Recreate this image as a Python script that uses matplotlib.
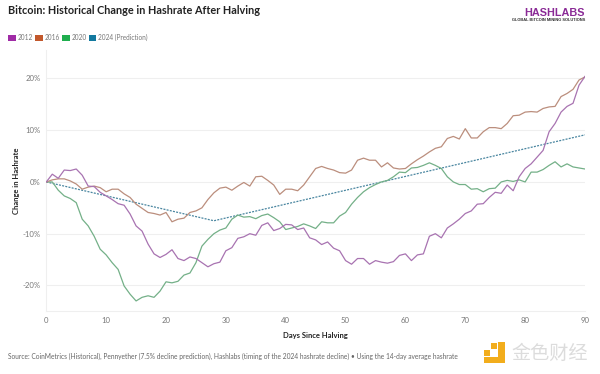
import matplotlib
matplotlib.use("Agg")
import matplotlib.pyplot as plt
from matplotlib.patches import Rectangle

plt.rcParams['font.family'] = ['Lato', 'DejaVu Sans']

days = list(range(0, 91))

# one value per day
hash_2012 = [0, 1.5, 0.7, 2.3, 2.2, 2.5, 1.3, -0.8, -0.9, -2.0, -2.7, -3.4, -4.2, -4.5, -6.2, -8.5, -9.5, -12, -13.9, -14.6,
             -14, -13.1, -14.8, -15.2, -14.5, -14.8, -15.6, -16.4, -15.8, -15.5, -13.3, -12.7, -10.9, -10.6, -10, -10.3, -8.4, -7.9, -9.4, -9,
             -8.2, -8.3, -9.2, -8.9, -10.8, -11.2, -12.1, -11.6, -12.8, -13.3, -15.2, -15.9, -14.8, -14.8, -15.9, -15.2, -15.5, -15.7, -15.4, -14.2,
             -13.9, -15.2, -14.1, -13.9, -10.5, -10, -10.8, -8.9, -8.1, -7.2, -6.1, -5.6, -4.3, -4.2, -3, -2, -2.2, -0.6, -1.7, 1.0,
             2.6, 3.5, 4.8, 6.1, 9.7, 11.3, 13.5, 14.6, 15.2, 18.7, 20.4]
hash_2016 = [0, 0.4, 0.6, 0.6, 0.2, -0.4, -1.4, -1, -0.8, -1.1, -1.9, -1.4, -1.4, -2.3, -3, -4.3, -5.1, -5.9, -6.1, -6.4,
             -5.9, -7.7, -7.2, -7, -5.9, -5.6, -5, -3.4, -2.1, -1.2, -1, -1.6, -0.8, -0.1, -0.8, 1, 1.1, 0.3, -0.6, -2.4,
             -1.4, -1.4, -1.7, -0.6, 1, 2.6, 3, 2.6, 2.3, 1.8, 1.7, 2.3, 4.2, 4.6, 4.2, 4.2, 2.9, 3.7, 2.7, 2.5,
             2.6, 3.5, 4.3, 5, 5.8, 6.5, 6.8, 8.4, 8.8, 8.3, 10.3, 8.5, 8.5, 9.7, 10.5, 10.5, 10.3, 11.3, 12.8, 12.9,
             13.5, 13.6, 13.5, 14.2, 14.5, 14.6, 16.5, 17.1, 17.9, 19.7, 20.3]
hash_2020 = [0, 0, -1.6, -2.7, -3.2, -4, -7.2, -8.5, -10.5, -13, -14.1, -15.6, -16.9, -20.1, -21.7, -23, -22.3, -22, -22.3, -21.1,
             -19.3, -19.5, -19.2, -18, -17.6, -15.6, -12.4, -11.1, -10, -9.3, -8.9, -7.2, -6.4, -6.8, -6.7, -7.1, -6.5, -6.2, -6.9, -7.7,
             -9.2, -8.9, -8.6, -8.1, -8.5, -9, -7.7, -7.9, -7.9, -6.6, -5.9, -4.3, -3, -1.9, -1.1, -0.5, 0, 0.3, 1, 1.9,
             1.8, 2.7, 2.8, 3.2, 3.7, 3.2, 2.6, 1, 0, -0.5, -0.5, -1.4, -1.3, -1.9, -1.3, -1.2, 0, 0.3, 0.1, 0.4,
             0, 1.9, 1.9, 2.4, 3.2, 3.9, 2.9, 3.5, 2.9, 2.7, 2.5]
days_2024 = [0, 28, 90]
hash_2024 = [0, -7.5, 9.1]

x_ticks = [0, 10, 20, 30, 40, 50, 60, 70, 80, 90]
y_ticks = [-20, -10, 0, 10, 20]
y_labels = ['-20%', '-10%', '0%', '10%', '20%']
legend_names = ['2012', '2016', '2020', '2024 (Prediction)']
legend_colors = ['#a02ba6', '#c2582c', '#1fae4e', '#12799f']

fig = plt.figure(figsize=(6, 3.74), dpi=100)
ax = fig.add_axes([46.3 / 600, 1 - 311.3 / 374, (585 - 46.3) / 600, (311.3 - 50) / 374])

ax.plot(days_2024, hash_2024, color='#4a86a0', lw=0.9, ls=(0, (1.6, 1.0)), zorder=2)
ax.plot(days, hash_2020, color='#74b088', lw=0.9, zorder=3)
ax.plot(days, hash_2016, color='#bb8e7d', lw=0.9, zorder=3)
ax.plot(days, hash_2012, color='#a873b1', lw=0.9, zorder=4)

ax.set_xlim(0, 90)
ax.set_ylim(-25, 25.5)
ax.set_xticks(x_ticks)
ax.set_yticks(y_ticks)
ax.set_yticklabels(y_labels)
ax.tick_params(length=0, labelsize=5.6, labelcolor='#777777', pad=4)
ax.grid(axis='y', color='#efefef', lw=0.8)
ax.set_axisbelow(True)
for s in ['top', 'right']:
    ax.spines[s].set_visible(False)
ax.spines['left'].set_color('#efefef')
ax.spines['bottom'].set_color('#efefef')
ax.set_xlabel('Days Since Halving', fontsize=5.5, fontweight='bold', color='#222222', labelpad=6)
ax.set_ylabel('Change in Hashrate', fontsize=5.5, fontweight='bold', color='#222222', labelpad=2)

# title, legend, source are placed in pixels
def px(x, y):
    return x / 600, 1 - y / 374

fig.text(*px(8, 11), 'Bitcoin: Historical Change in Hashrate After Halving', fontsize=7.85, fontweight='bold',
         color='#222222', va='center')

legend_x = [8, 35, 62, 88.5]
for name, col, lx in zip(legend_names, legend_colors, legend_x):
    fig.add_artist(Rectangle(px(lx, 40.5), 7.5 / 600, 6 / 374, transform=fig.transFigure, facecolor=col, edgecolor='none'))
    fig.text(*px(lx + 9.5, 37.3), name, fontsize=4.7, color='#777777', va='center')

fig.text(*px(8, 356), 'Source: CoinMetrics (Historical), Pennyether (7.5% decline prediction), Hashlabs (timing of the 2024 hashrate decline) • Using the 14-day average hashrate',
         fontsize=4.75, color='#666666', va='center')

# logo top right
fig.text(*px(585, 13.5), 'HASHLABS', fontsize=7.8, fontweight='bold', color='#8a2a96', ha='right', va='center',
         family=['Liberation Sans', 'DejaVu Sans'])
fig.text(*px(585, 20.3), 'GLOBAL BITCOIN MINING SOLUTIONS', fontsize=2.9, fontweight='bold', color='#333333', ha='right', va='center',
         family=['Liberation Sans', 'DejaVu Sans'])

# watermark bottom right
gold = '#f2ad1c'
fig.add_artist(Rectangle(px(484, 363), 21 / 600, 6 / 374, transform=fig.transFigure, facecolor=gold, edgecolor='none'))
fig.add_artist(Rectangle(px(498, 363), 7 / 600, 21 / 374, transform=fig.transFigure, facecolor=gold, edgecolor='none'))
fig.add_artist(Rectangle(px(491, 349), 6 / 600, 6 / 374, transform=fig.transFigure, facecolor=gold, edgecolor='none'))
fig.add_artist(Rectangle(px(484, 356), 6 / 600, 6 / 374, transform=fig.transFigure, facecolor=gold, edgecolor='none'))
fig.text(*px(511, 353), '金色财经', fontsize=13.8, color='#dcdcdc', va='center',
         family=['Noto Sans CJK SC', 'DejaVu Sans'])

fig.savefig('out.png', dpi=100)
